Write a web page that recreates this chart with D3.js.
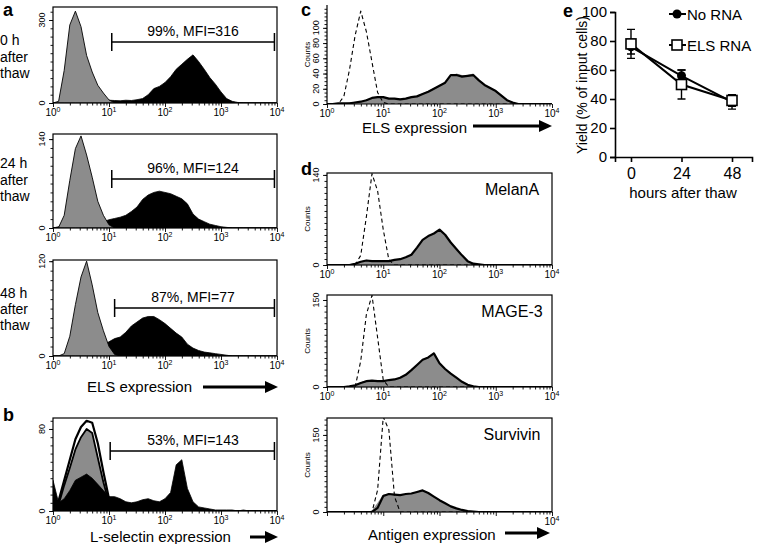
<!DOCTYPE html>
<html><head><meta charset="utf-8">
<script src="https://cdn.jsdelivr.net/npm/d3@7"></script>
<style>body{margin:0;background:#fff} svg{display:block;font-family:"Liberation Sans",Arial,sans-serif}</style>
</head><body><svg id="fig" width="758" height="544"></svg>
<script>
// log10 channel positions of histogram bins
const logBins = [0,0.1,0.2,0.3,0.4,0.5,0.6,0.7,0.8,0.9, 1,1.1,1.2,1.3,1.4,1.5,1.6,1.7,1.8,1.9, 2,2.1,2.2,2.3,2.4,2.5,2.6,2.7,2.8,2.9, 3,3.1,3.2,3.3,3.4,3.5,3.6,3.7,3.8,3.9, 4];
const decadeTicks = [1,10,100,1000,10000];

// panel a
const a0hGray  = [0,6,118,282,332,276,172,112,64,36, 11,1,0,0,0,0,0,0,0,0, 0,0,0,0,0,0,0,0,0,0, 0,0,0,0,0,0,0,0,0,0, 0];
const a0hBlack = [0,3,5,5,6,6,7,8,8,9, 10,9,8,10,9,12,16,30,52,60, 74,95,122,140,158,174,150,122,92,68, 40,16,6,2,1,0,0,0,0,0, 0];
const a24Gray  = [0,1,20,75,125,145,115,80,42,20, 5,0,0,0,0,0,0,0,0,0, 0,0,0,0,0,0,0,0,0,0, 0,0,0,0,0,0,0,0,0,0, 0];
const a24Black = [0,2,3,3,4,4,5,6,8,10, 13,15,17,20,26,33,45,52,56,58, 56,54,50,46,38,22,14,10,6,4, 2,1,0,0,0,0,0,0,0,0, 0];
const a48Gray  = [0,0,3,25,65,100,120,90,55,32, 12,2,0,0,0,0,0,0,0,0, 0,0,0,0,0,0,0,0,0,0, 0,0,0,0,0,0,0,0,0,0, 0];
const a48Black = [0,0,1,2,3,4,5,7,10,14, 18,22,24,30,38,43,48,50,50,46, 41,35,29,24,15,10,7,5,4,3, 2,1,0,0,0,0,0,0,0,0, 0];
const aRowLabels = [["0 h","after","thaw"],["24 h","after","thaw"],["48 h","after","thaw"]];
const aGateText = ["99%, MFI=316","96%, MFI=124","87%, MFI=77"];
const aGateStart = [11.2, 11.2, 12.6];
const aYTop = [300, 140, 120];

// panel b
const bOutline = [0,10,30,50,70,82,88,86,66,38, 12,3,0,0,0,0,0,0,0,0, 0,0,0,0,0,0,0,0,0,0, 0,0,0,0,0,0,0,0,0,0, 0];
const bGray    = [0,6,25,42,60,72,80,76,52,28, 8,0,0,0,0,0,0,0,0,0, 0,0,0,0,0,0,0,0,0,0, 0,0,0,0,0,0,0,0,0,0, 0];
const bBlack   = [30,8,12,20,30,33,36,32,26,20, 14,14,12,9,8,9,11,12,10,9, 12,18,45,50,22,9,4,3,2,1, 1,1,1,0,1,0,0,0,0,0, 0];
const bGateText = "53%,  MFI=143";

// panel c
const cGray = [0,1,1,1,2,3,4,6,8,10, 9,8,7,7,8,9,11,14,17,21, 25,29,36,40,38,38,40,30,26,22, 18,12,6,2,0,0,0,0,0,0, 0];
const cLine = [0,0,1,1,1,2,3,5,8,9, 9,7,7,6,7,9,10,13,16,20, 24,28,38,38,36,37,38,31,25,21, 17,11,5,2,0,0,0,0,0,0, 0];
const cDash = [0,0,0,10,45,90,122,95,55,15, 2,0,0,0,0,0,0,0,0,0, 0,0,0,0,0,0,0,0,0,0, 0,0,0,0,0,0,0,0,0,0, 0];
const cYTicks = [0,20,40,60,80,100];

// panel d
const dNames = ["MelanA","MAGE-3","Survivin"];
const melanGray = [0,0,0,0,1,3,6,8,7,6, 6,7,8,9,12,17,26,38,46,48, 56,48,36,26,16,7,3,1,0,0, 0,0,0,0,0,0,0,0,0,0, 0];
const melanLine = [0,0,0,0,0,2,5,7,6,6, 6,6,8,9,12,16,27,39,45,49, 55,47,35,25,15,6,2,1,0,0, 0,0,0,0,0,0,0,0,0,0, 0];
const melanDash = [0,0,0,0,0,0,15,75,142,115, 55,8,0,0,0,0,0,0,0,0, 0,0,0,0,0,0,0,0,0,0, 0,0,0,0,0,0,0,0,0,0, 0];
const mageGray  = [0,0,0,1,2,4,8,12,12,10, 11,12,14,16,22,30,38,48,52,60, 42,32,24,17,10,4,2,0,0,0, 0,0,0,0,0,0,0,0,0,0, 0];
const mageLine  = [0,0,0,0,1,3,7,10,11,10, 10,12,13,16,21,29,38,47,51,58, 41,31,23,16,9,4,1,0,0,0, 0,0,0,0,0,0,0,0,0,0, 0];
const mageDash  = [0,0,0,0,0,0,45,125,158,85, 12,0,0,0,0,0,0,0,0,0, 0,0,0,0,0,0,0,0,0,0, 0,0,0,0,0,0,0,0,0,0, 0];
const survGray  = [0,0,0,0,0,0,0,0,3,18, 34,36,35,34,35,37,40,42,38,30, 24,18,12,8,5,3,1,0,0,0, 0,0,0,0,0,0,0,0,0,0, 0];
const survLine  = [0,0,0,0,0,0,0,0,0,8, 31,35,34,33,35,36,39,42,37,30, 23,17,11,7,4,2,1,0,0,0, 0,0,0,0,0,0,0,0,0,0, 0];
const survDash  = [0,0,0,0,0,0,0,0,0,43, 185,160,30,0,0,0,0,0,0,0, 0,0,0,0,0,0,0,0,0,0, 0,0,0,0,0,0,0,0,0,0, 0];

// panel e
const hours = [0,24,48];
const noRNA = [76,56,38];
const noRNAErr = [5,4,5];
const elsRNA = [78,50,39];
const elsRNAErr = [10,10,4];
const eYTicks = [0,20,40,60,80,100];
const eLegend = ["No RNA","ELS RNA"];

const svg = d3.select("#fig");
const GRAY = "#8c8c8c";
let clipN = 0;

function histPanel(o){
  const x = d3.scaleLog().domain([1,1e4]).range([o.x0,o.x1]);
  const y = d3.scaleLinear().domain([0,o.yMax]).range([o.base,o.top]);
  const id = "clip"+(clipN++);
  svg.append("clipPath").attr("id",id).append("rect")
    .attr("x",o.x0).attr("y",o.top).attr("width",o.x1-o.x0).attr("height",o.base-o.top);
  const g = svg.append("g");
  const pg = g.append("g").attr("clip-path",`url(#${id})`);
  o.layers.forEach(L=>{
    const pts = logBins.map((b,i)=>({b, v:L.data[i]}));
    if(L.type==="area"){
      pg.append("path")
        .attr("d", d3.area().x(d=>x(Math.pow(10,d.b))).y0(o.base).y1(d=>y(d.v))(pts))
        .attr("fill",L.fill).attr("stroke",L.stroke||"none").attr("stroke-width",L.sw||1)
        .attr("stroke-linejoin","round");
    } else {
      pg.append("path")
        .attr("d", d3.line().x(d=>x(Math.pow(10,d.b))).y(d=>y(d.v))(pts))
        .attr("fill","none").attr("stroke","#000").attr("stroke-width",L.sw||1)
        .attr("stroke-dasharray",L.dash||null).attr("stroke-linejoin","round");
    }
  });
  if(o.box){
    g.append("rect").attr("x",o.x0).attr("y",o.top).attr("width",o.x1-o.x0).attr("height",o.base-o.top)
      .attr("fill","none").attr("stroke","#000").attr("stroke-width",1.2);
  } else {
    g.append("path").attr("d",`M${o.x0},${o.top}V${o.base}H${o.x1}`).attr("fill","none").attr("stroke","#000").attr("stroke-width",1.2);
  }
  const minors = [];
  for(let k=0;k<4;k++) for(let m=2;m<10;m++) minors.push(m*Math.pow(10,k));
  const xa = g.append("g").attr("transform",`translate(0,${o.base})`);
  xa.call(d3.axisBottom(x).tickValues(decadeTicks).tickSize(4).tickFormat(""));
  xa.call(g2=>g2.select(".domain").remove());
  const xm = g.append("g").attr("transform",`translate(0,${o.base})`);
  xm.call(d3.axisBottom(x).tickValues(minors).tickSize(2.5).tickFormat(""));
  xm.call(g2=>g2.select(".domain").remove());
  g.selectAll(".tick line").attr("stroke-width",0.9);
  (o.xLabels||decadeTicks).forEach(v=>{
    const t = g.append("text").attr("x",x(v)).attr("y",o.base+13).attr("text-anchor","middle")
      .attr("font-size",10);
    t.append("tspan").text("10");
    t.append("tspan").attr("dy",-4).attr("font-size",7).text(String(Math.round(Math.log10(v))));
  });
  const ya = g.append("g").attr("transform",`translate(${o.x0},0)`);
  ya.call(d3.axisLeft(y).tickValues(o.yTicks).tickSize(4).tickFormat(""));
  ya.call(g2=>g2.select(".domain").remove());
  const ym = g.append("g").attr("transform",`translate(${o.x0},0)`);
  ym.call(d3.axisLeft(y).tickValues(d3.range(0,o.yMax,o.yMinor)).tickSize(2.5).tickFormat(""));
  ym.call(g2=>g2.select(".domain").remove());
  g.selectAll(".tick line").attr("stroke-width",0.9);
  o.yTicks.forEach(v=>{
    g.append("text").attr("transform",`translate(${o.x0-8},${y(v)}) rotate(-90)`)
      .attr("text-anchor","middle").attr("font-size",9).text(v);
  });
  if(o.countsLabel){
    g.append("text").attr("transform",`translate(${o.x0-17},${(o.top+o.base)/2}) rotate(-90)`)
      .attr("text-anchor","middle").attr("font-size",8).text("Counts");
  }
  if(o.gate){
    const gy = o.gate.y;
    g.append("path").attr("d",`M${x(o.gate.from)},${gy}H${x(9000)}M${x(o.gate.from)},${gy-9}V${gy+9}M${x(9000)},${gy-9}V${gy+9}`)
      .attr("stroke","#000").attr("stroke-width",1.5).attr("fill","none");
    g.append("text").attr("x",193).attr("y",gy-6).attr("text-anchor","middle").attr("font-size",14).text(o.gate.text);
  }
  if(o.name){
    g.append("text").attr("x",o.x1-40).attr("y",o.top+22).attr("text-anchor","middle").attr("font-size",16).text(o.name);
  }
  return {x,y};
}

function arrow(x1,x2,yy){
  svg.append("line").attr("x1",x1).attr("x2",x2-10).attr("y1",yy).attr("y2",yy).attr("stroke","#000").attr("stroke-width",3);
  svg.append("path").attr("d",`M${x2},${yy}L${x2-13},${yy-6}L${x2-13},${yy+6}Z`).attr("fill","#000");
}
function label(txt,x,y,size,weight,anchor){
  return svg.append("text").attr("x",x).attr("y",y).attr("font-size",size).attr("font-weight",weight||"normal")
    .attr("text-anchor",anchor||"start").text(txt);
}

// ---- panel a ----
const aGeo = [{top:7,base:103,yMax:347,gy:42},{top:134,base:228,yMax:148,gy:179},{top:260,base:356,yMax:121.5,gy:308}];
const aData = [[a0hBlack,a0hGray],[a24Black,a24Gray],[a48Black,a48Gray]];
const aRowBase = [[45,62,78],[168,185,201],[298,314,330]];
aGeo.forEach((G,i)=>{
  histPanel({x0:53,x1:277,top:G.top,base:G.base,yMax:G.yMax,yTicks:[0,aYTop[i]],yMinor:aYTop[i]/10,box:true,
    layers:[{type:"area",data:aData[i][0],fill:"#000",stroke:"#000",sw:0.8},
            {type:"area",data:aData[i][1],fill:GRAY,stroke:"#000",sw:0.9}],
    gate:{from:aGateStart[i],y:G.gy,text:aGateText[i]}});
  aRowLabels[i].forEach((t,j)=>label(t,0,aRowBase[i][j],14));
});
label("ELS expression",87,392,15);
arrow(203,278,387);

// ---- panel b ----
histPanel({x0:53,x1:277,top:418,base:511,yMax:90.7,yTicks:[0,80],yMinor:8,box:true,
  layers:[{type:"area",data:bOutline,fill:"#fff",stroke:"#000",sw:2.2},
          {type:"area",data:bGray,fill:GRAY,stroke:"#000",sw:1.8},
          {type:"area",data:bBlack,fill:"#000",stroke:"#000",sw:0.8}],
  gate:{from:10.5,y:451,text:bGateText}});
label("L-selectin expression",90,542,15);
arrow(250,278,537);

// ---- panel c ----
histPanel({x0:327,x1:552,top:5,base:104,yMax:130,yTicks:cYTicks,yMinor:5,box:false,countsLabel:true,
  layers:[{type:"area",data:cGray,fill:GRAY},
          {type:"line",data:cLine,sw:2.2},
          {type:"line",data:cDash,sw:1.1,dash:"4,3"}]});
label("ELS expression",362,133,15);
arrow(473,552,126);

// ---- panel d ----
const dGeo = [{top:173,base:265,yMax:143,tick:140},{top:295,base:387,yMax:158.6,tick:150},{top:418,base:512,yMax:183,tick:150}];
const dData = [[melanGray,melanLine,melanDash],[mageGray,mageLine,mageDash],[survGray,survLine,survDash]];
dGeo.forEach((G,i)=>{
  histPanel({x0:327,x1:552,top:G.top,base:G.base,yMax:G.yMax,yTicks:[0,G.tick],yMinor:G.tick/15,box:true,countsLabel:true,
    xLabels: i===2 ? [10000] : decadeTicks, name:dNames[i],
    layers:[{type:"area",data:dData[i][0],fill:GRAY},
            {type:"line",data:dData[i][1],sw:2.2},
            {type:"line",data:dData[i][2],sw:1.1,dash:"4,3"}]});
});
label("Antigen expression",368,540,15);
arrow(505,550,533);

// ---- panel e ----
{
  const x = d3.scaleLinear().domain([-7.6,57.5]).range([615,752]);
  const y = d3.scaleLinear().domain([0,100]).range([157,12]);
  const g = svg.append("g");
  const ya = g.append("g").attr("transform","translate(615,0)")
    .call(d3.axisLeft(y).tickValues(eYTicks).tickSize(5).tickPadding(3));
  ya.selectAll("text").attr("font-size",15).attr("font-family","Liberation Sans, Arial, sans-serif");
  const xa = g.append("g").attr("transform","translate(0,157)")
    .call(d3.axisBottom(x).tickValues(hours).tickSize(5).tickPadding(6));
  xa.selectAll("text").attr("font-size",16).attr("font-family","Liberation Sans, Arial, sans-serif");
  g.selectAll(".domain,.tick line").attr("stroke-width",1.6);
  g.append("text").attr("x",683).attr("y",198).attr("text-anchor","middle").attr("font-size",15).text("hours after thaw");
  g.append("text").attr("transform","translate(587,85) rotate(-90)").attr("text-anchor","middle").attr("font-size",14).text("Yield (% of input cells)");
  const series = [{v:noRNA,e:noRNAErr,m:"circle"},{v:elsRNA,e:elsRNAErr,m:"square"}];
  series.forEach(s=>{
    s.v.forEach((v,i)=>{
      const cx = x(hours[i]);
      g.append("path").attr("d",`M${cx},${y(v+s.e[i])}V${y(v-s.e[i])}M${cx-4},${y(v+s.e[i])}H${cx+4}M${cx-4},${y(v-s.e[i])}H${cx+4}`)
        .attr("stroke","#000").attr("stroke-width",1.4).attr("fill","none");
    });
  });
  series.forEach(s=>{
    g.append("path").attr("d",d3.line().x((d,i)=>x(hours[i])).y(d=>y(d))(s.v))
      .attr("fill","none").attr("stroke","#000").attr("stroke-width",2);
  });
  series.forEach(s=>{
    s.v.forEach((v,i)=>{
      if(s.m==="circle") g.append("circle").attr("cx",x(hours[i])).attr("cy",y(v)).attr("r",4.5).attr("fill","#000");
      else g.append("rect").attr("x",x(hours[i])-5).attr("y",y(v)-5).attr("width",10).attr("height",10)
        .attr("fill","#fff").attr("stroke","#000").attr("stroke-width",1.6);
    });
  });
  const lg = [{y:14,m:"circle"},{y:45,m:"square"}];
  lg.forEach((L,i)=>{
    g.append("line").attr("x1",669).attr("x2",686).attr("y1",L.y).attr("y2",L.y).attr("stroke","#000").attr("stroke-width",2);
    if(L.m==="circle") g.append("circle").attr("cx",677).attr("cy",L.y).attr("r",4.5).attr("fill","#000");
    else g.append("rect").attr("x",672).attr("y",L.y-5).attr("width",10).attr("height",10).attr("fill","#fff").attr("stroke","#000").attr("stroke-width",1.6);
    g.append("text").attr("x",687).attr("y",L.y+5.5).attr("font-size",15).text(eLegend[i]);
  });
}

// panel letters
label("a",3,16,18,"bold");
label("b",3,421,18,"bold");
label("c",301,16,18,"bold");
label("d",301,175,18,"bold");
label("e",563,17,18,"bold");
</script>
</body></html>
